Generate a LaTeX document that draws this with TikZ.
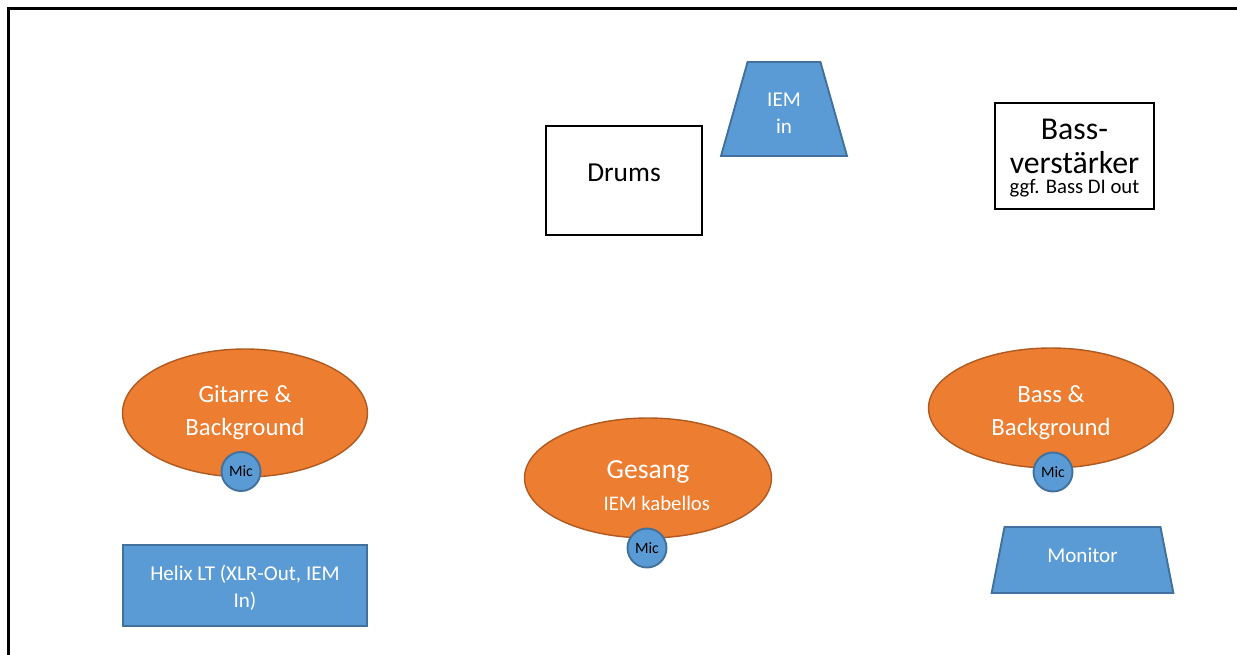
\documentclass[tikz,border=0pt]{standalone}
\usepackage{fontspec}
\setmainfont{Carlito}
\usetikzlibrary{shapes.geometric,positioning}

\definecolor{stageblue}{HTML}{5B9BD5}
\definecolor{stageblueline}{HTML}{41719C}
\definecolor{stageorange}{HTML}{ED7D31}
\definecolor{stageorangeline}{HTML}{AE5A21}

\begin{document}
\begin{tikzpicture}[
     x=0.02cm, y=-0.02cm,
     % define styles
     amp/.style={
         draw=black, line width=1.1pt, fill=white,
         inner sep=0pt, align=center
     },
     gear/.style={
         draw=stageblueline, line width=1.1pt, fill=stageblue,
         text=white, inner sep=0pt, align=center,
         font=\fontsize{12}{15.3}\selectfont
     },
     wedge/.style={
         gear, trapezium, trapezium stretches=true,
         trapezium left angle=76, trapezium right angle=76
     },
     player/.style={
         ellipse, draw=stageorangeline, line width=0.8pt, fill=stageorange,
         text=white, inner sep=0pt, align=center,
         minimum width=4.9cm, minimum height=2.4cm,
         font=\fontsize{14.1}{18.7}\selectfont
     },
     mic/.style={
         circle, draw=stageblueline, line width=1.1pt, fill=stageblue,
         inner sep=0pt, minimum size=0.78cm,
         font=\fontsize{9}{10}\selectfont
     }
]
% page frame, open to the right and bottom
\useasboundingbox (0,0) rectangle (1237,655);
\draw[line width=1.4pt] (8.5,655) -- (8.5,8.5) -- (1237,8.5);

% back line of the stage
\node[amp, minimum width=3.12cm, minimum height=2.18cm,
      font=\fontsize{15.6}{18}\selectfont] (drums) at (624,180.5)
    {\raisebox{9pt}{Drums}};
\node[wedge, minimum width=2.52cm, minimum height=1.88cm, text height=28pt] (iem) at (784,109)
    {IEM\\in};
\node[amp, minimum width=3.18cm, minimum height=2.12cm, text height=44.4pt,
      font=\fontsize{18.1}{19.3}\selectfont] (bassamp) at (1074.5,156)
    {Bass-\\verstärker\\[-8.3pt]
     {\fontsize{11.8}{12}\selectfont ggf. Bass DI out}};

% players
\node[player, minimum height=2.56cm] (gitarre) at (245,413) {Gitarre \&\\Background};
\node[player, minimum width=4.94cm, text height=36.8pt,
      font=\fontsize{15.7}{18}\selectfont] (gesang) at (648,478)
    {Gesang\\{\hspace*{10pt}\fontsize{11.8}{14}\selectfont IEM kabellos}};
\node[player, text height=33.2pt] (bass) at (1051,408) {Bass \&\\Background};

% microphones in front of each player
\node[mic] (mic1) at (241,471.5) {Mic};
\node[mic] (mic2) at (647,548) {Mic};
\node[mic] (mic3) at (1053,472) {Mic};

% front line
\node[gear, minimum width=4.88cm, minimum height=1.62cm, text height=26.8pt] (helix) at (245,585.5)
    {Helix LT (XLR-Out, IEM\\In)};
\node[wedge, minimum width=3.64cm, minimum height=1.32cm] (monitor) at (1082.5,560)
    {\raisebox{5pt}{Monitor}};
\end{tikzpicture}
\end{document}
